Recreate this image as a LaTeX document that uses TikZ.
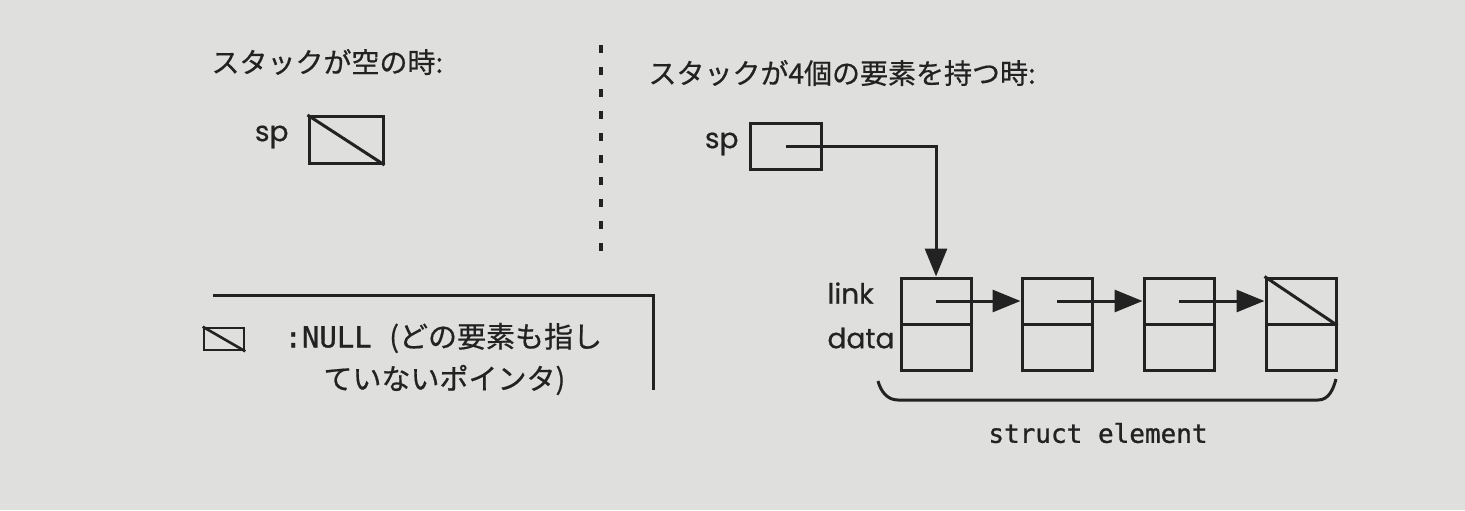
\documentclass[tikz,border=0pt]{standalone}
\usepackage{fontspec}
\newfontfamily\jp[FakeBold=0.6]{Noto Sans CJK JP}
\newfontfamily\lab[FakeBold=0.6]{Poppins}
\newfontfamily\code[FakeBold=1]{DejaVu Sans Mono}
\usetikzlibrary{arrows.meta}
\definecolor{paper}{RGB}{223,223,221}
\definecolor{ink}{RGB}{34,34,34}

\begin{document}
\begin{tikzpicture}[x=0.5pt, y=-0.5pt, color=ink, line width=1.5pt,
    cell/.style={draw, inner sep=0pt, minimum width=35pt, minimum height=23pt},
    ptr/.style={-{Triangle[length=14pt, width=11pt]}},
    jptext/.style={font=\jp\fontsize{14pt}{17pt}\selectfont, inner sep=0pt},
    lbltext/.style={font=\lab\fontsize{14pt}{17pt}\selectfont, inner sep=0pt}]
    \fill[paper] (0,0) rectangle (1465,510);
    \useasboundingbox (0,0) rectangle (1465,510);

    % empty stack
    \node (ttlEmpty) at (210,62) [jptext, anchor=west] {スタックが空の時:};
    \node (spEmpty) at (346,140) [cell, minimum width=37pt, minimum height=23.5pt] {};
    \draw (spEmpty.north west) -- (spEmpty.south east);
    \node (spEmptyLbl) at (290,137) [lbltext, anchor=east] {sp};

    \draw[dash pattern=on 4pt off 7pt, line width=1.6pt] (601,45) -- (601,252);

    % stack with four elements
    \node (ttlFour) at (647,73) [jptext, anchor=west] {スタックが4個の要素を持つ時:};
    \node (spFour) at (786,146) [cell, minimum width=35.5pt] {};
    \node (spFourLbl) at (740,144) [lbltext, anchor=east] {sp};

    \node (link1) at (936,301) [cell] {};
    \node (data1) at (936,347) [cell] {};
    \node (link2) at (1057,301) [cell] {};
    \node (data2) at (1057,347) [cell] {};
    \node (link3) at (1179,301) [cell] {};
    \node (data3) at (1179,347) [cell] {};
    \node (link4) at (1301,301) [cell] {};
    \node (data4) at (1301,347) [cell] {};
    \draw (link4.north west) -- (link4.south east);

    \node (linkLbl) at (826,293) [lbltext, anchor=west] {link};
    \node (dataLbl) at (826,338) [lbltext, anchor=west] {data};

    \draw[ptr] (spFour.center) -| (link1.north);
    \draw[ptr] (link1.center) -- (link2.west);
    \draw[ptr] (link2.center) -- (link3.west);
    \draw[ptr] (link3.center) -- (link4.west);

    \draw (878,381) to[out=-75, in=180] (898,400) -- (1318,400) to[out=0, in=-105] (1336,379);
    \node (structLbl) at (1098,433) [font=\code\fontsize{13pt}{15pt}\selectfont, inner sep=0pt] {struct element};

    % legend
    \draw (213,295) -- (653,295) -- (653,390);
    \node (nullIcon) at (224,339) [cell, line width=1.3pt, minimum width=20pt, minimum height=11pt] {};
    \draw[line width=1.3pt] (nullIcon.north west) -- (nullIcon.south east);
    \node (nullTxt1) at (283,338) [jptext, anchor=west, font=\jp\fontsize{14.5pt}{17pt}\selectfont] {{\code :NULL\ }(どの要素も指し};
    \node (nullTxt2) at (322,380) [jptext, anchor=west, font=\jp\fontsize{14.5pt}{17pt}\selectfont] {ていないポインタ)};
\end{tikzpicture}
\end{document}
